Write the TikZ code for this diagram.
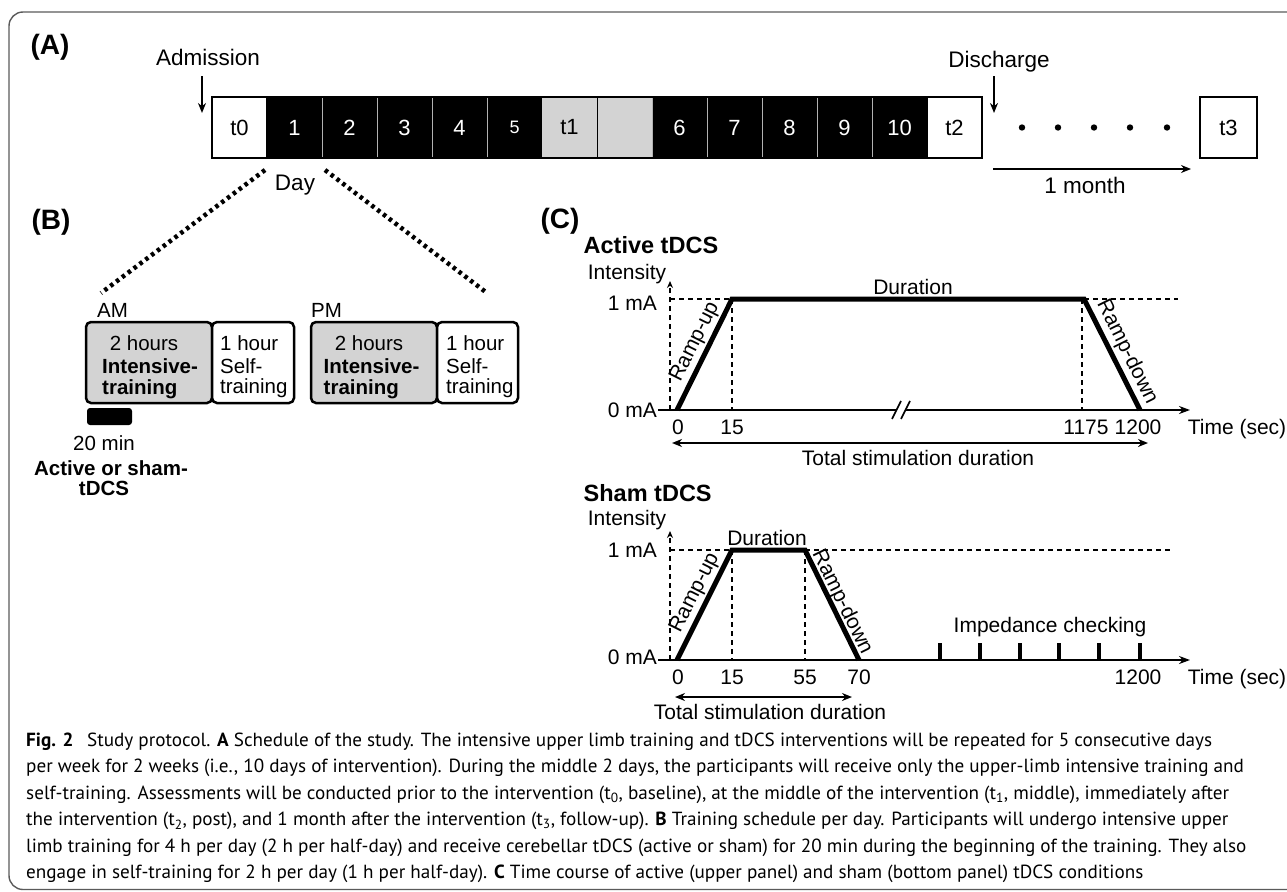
\documentclass[tikz,border=0pt]{standalone}
\usepackage{fontspec}
\setmainfont{Liberation Sans}
\newfontfamily\capfont{PT Sans}
\usepackage{graphicx}
\usetikzlibrary{arrows.meta}
\definecolor{lightg}{RGB}{211,211,211}
\definecolor{framec}{RGB}{90,90,90}
\newcommand\fs[1]{\fontsize{#1}{#1}\selectfont}
\newlength\capw
\newcommand\cpA{\textbf{Fig. 2}\hspace{0.45em} Study protocol. \textbf{A} Schedule of the study. The intensive upper limb training and tDCS interventions will be repeated for 5 consecutive days}
\newcommand\cpB{per week for 2 weeks (i.e., 10 days of intervention). During the middle 2 days, the participants will receive only the upper-limb intensive training and}
\newcommand\cpC{self-training. Assessments will be conducted prior to the intervention (t\textsubscript{0}, baseline), at the middle of the intervention (t\textsubscript{1}, middle), immediately after}
\newcommand\cpD{the intervention (t\textsubscript{2}, post), and 1 month after the intervention (t\textsubscript{3}, follow-up). \textbf{B} Training schedule per day. Participants will undergo intensive upper}
\newcommand\cpE{limb training for 4 h per day (2 h per half-day) and receive cerebellar tDCS (active or sham) for 20 min during the beginning of the training. They also}
\newcommand\cpF{engage in self-training for 2 h per day (1 h per half-day). \textbf{C} Time course of active (upper panel) and sham (bottom panel) tDCS conditions}
\begin{document}
\settowidth\capw{\capfont\fs{19}\cpA}%
\pgfmathsetmacro\capsc{1186/\capw}%
\begin{tikzpicture}[x=1pt,y=-1pt,
  lab/.style={inner sep=0pt, font=\fs{22.5}},
  lbs/.style={inner sep=0pt, font=\fs{20.5}},
  lbb/.style={inner sep=0pt, font=\fs{20.5}\bfseries},
  lc/.style={inner sep=0pt, font=\fs{21}},
  hdr/.style={inner sep=0pt, font=\fs{23.5}\bfseries, anchor=base west},
  plab/.style={inner sep=0pt, font=\fs{28}\bfseries},
  cell/.style={minimum width=55pt, minimum height=61pt, inner sep=0pt, font=\fs{22}, line width=0.8pt},
  cellW/.style={cell, fill=white, draw=black, text=black},
  cellK/.style={cell, fill=black, draw=gray!60, text=white},
  cellG/.style={cell, fill=lightg, draw=none, text=black},
  arr/.style={line width=2pt, -{Stealth[length=10pt,width=8pt]}},
  dotl/.style={line width=4.5pt, dash pattern=on 3.5pt off 3.8pt},
  tbox/.style={draw, line width=2.5pt, rounded corners=5pt, minimum height=81pt, inner sep=0pt},
  dsh/.style={line width=1.6pt, dash pattern=on 5pt off 4pt},
  axisl/.style={line width=2pt, -{Stealth[length=11pt,width=8pt]}},
  yax/.style={line width=1.6pt, dash pattern=on 5pt off 4pt, -{Stealth[length=7pt,width=6pt]}},
  trap/.style={line width=5pt},
  dbl/.style={line width=2pt, {Stealth[length=10pt,width=8pt]}-{Stealth[length=10pt,width=8pt]}},
  capt/.style={anchor=base west, inner sep=0pt, font=\capfont\fs{19}}
]
\path[use as bounding box] (0,0) rectangle (1287,891);
\clip (0,0) rectangle (1287,891);
% frame
\draw[framec, line width=1.4pt, rounded corners=14pt] (9,889.5) rectangle (1340,12);

% ---------- (A) timeline ----------
\node[plab, anchor=base] (labA) at (50,55) {(A)};
\foreach \i/\lab/\kind in {0/t0/W,1/1/K,2/2/K,3/3/K,4/4/K,5/{\fs{18}5}/K,6/t1/G,7/{}/G,8/6/K,9/7/K,10/8/K,11/9/K,12/10/K,13/t2/W}
  {\node[cell\kind] (c\i) at ({239.5+55*\i},127.5) {\lab};}
\draw[line width=0.8pt] (c6.north east) -- (c6.south east);
\draw[line width=2pt] (c0.north west) rectangle (c13.south east);
\draw[line width=2pt] (c0.north east) -- (c0.south east);
\draw[line width=2pt] (c13.north west) -- (c13.south west);
\node[cellW, line width=2pt, minimum width=57pt] (t3) at (1228.5,127.5) {t3};
\foreach \x in {1022,1058,1094,1130,1167} \fill (\x,127.5) circle (3.2pt);

\node[lab, anchor=base] (adm) at (208,66) {Admission};
\coordinate (admS) at (202,76); \coordinate (admE) at (202,113);
\draw[arr] (admS) -- (admE);
\node[lab, anchor=base] (dis) at (999,67) {Discharge};
\coordinate (disS) at (994,76); \coordinate (disE) at (994,113);
\draw[arr] (disS) -- (disE);
\coordinate (monS) at (993,169); \coordinate (monE) at (1191,169);
\draw[arr] (monS) -- (monE);
\node[lab, anchor=base] (mon) at (1085,193) {1 month};

\node[lab, anchor=base] (day) at (295,190) {Day};
\coordinate (dL1) at (265,170); \coordinate (dL2) at (101,293);
\coordinate (dR1) at (325,170); \coordinate (dR2) at (487,293);
\draw[dotl] (dL1) -- (dL2);
\draw[dotl] (dR1) -- (dR2);

% ---------- (B) ----------
\node[plab, anchor=base] (labB) at (51,229) {(B)};
\node[lbs, anchor=base west] (am) at (97,317) {AM};
\node[lbs, anchor=base west] (pm) at (311,317) {PM};
\node[tbox, fill=lightg, minimum width=126pt] (am1) at (149,362.5) {};
\node[tbox, fill=white, minimum width=82pt] (am2) at (253,362.5) {};
\node[tbox, fill=lightg, minimum width=126pt] (pm1) at (374,362.5) {};
\node[tbox, fill=white, minimum width=81pt] (pm2) at (477.5,362.5) {};
\node[lbs, anchor=base] (am1a) at (144,350) {2 hours};
\node[lbb, anchor=base west] (am1b) at (102,373) {Intensive-};
\node[lbb, anchor=base west] (am1c) at (102,394) {training};
\node[lbs, anchor=base west] (am2a) at (220,350) {1 hour};
\node[lbs, anchor=base west] (am2b) at (220,373) {Self-};
\node[lbs, anchor=base west] (am2c) at (220,393) {training};
\node[lbs, anchor=base] (pm1a) at (369,350) {2 hours};
\node[lbb, anchor=base west] (pm1b) at (323.5,373) {Intensive-};
\node[lbb, anchor=base west] (pm1c) at (323.5,394) {training};
\node[lbs, anchor=base west] (pm2a) at (446,350) {1 hour};
\node[lbs, anchor=base west] (pm2b) at (446,373) {Self-};
\node[lbs, anchor=base west] (pm2c) at (446,393) {training};
\node[fill=black, rounded corners=3pt, minimum width=45pt, minimum height=17pt, inner sep=0pt] (bar) at (109.5,416.5) {};
\node[lbs, anchor=base] (min) at (104,450.5) {20 min};
\node[lbb, anchor=base] (aos1) at (111,475.5) {Active or sham-};
\node[lbb, anchor=base] (aos2) at (104,495.5) {tDCS};

% ---------- (C) active ----------
\node[plab, anchor=base] (labC) at (560,228) {(C)};
\node[hdr] (hA) at (583.5,253.5) {Active tDCS};
\node[lc, anchor=base] (intA) at (627,279.5) {Intensity};
\node[lc, anchor=base] (durA) at (913,294.5) {Duration};
\node[lc, anchor=base east] (oneA) at (657,310) {1 mA};
\node[lc, anchor=base east] (zeroA) at (657,417.5) {0 mA};
\coordinate (yA0) at (670,410); \coordinate (yA1) at (670,281);
\coordinate (hA0) at (670,299); \coordinate (hA1) at (1178,299);
\coordinate (a0) at (677,410); \coordinate (a1) at (732,299);
\coordinate (a2) at (1084,299); \coordinate (a3) at (1140,410);
\coordinate (v1b) at (732,410); \coordinate (v2t) at (1082,299); \coordinate (v2b) at (1082,410);
\coordinate (xA0) at (658,410); \coordinate (xA1) at (1190,410);
\draw[dsh] (hA0) -- (hA1);
\draw[dsh] (a1) -- (v1b);
\draw[dsh] (v2t) -- (v2b);
\draw[yax] (yA0) -- (yA1);
\draw[axisl] (xA0) -- (xA1);
\fill[white] (893,419) -- (901,401) -- (910,401) -- (902,419) -- cycle;
\draw[line width=1.6pt] (892,419) -- (901,401);
\draw[line width=1.6pt] (901,419) -- (910,401);
\draw[trap] (a0) -- (a1) -- (a2) -- (a3);
\node[lc, rotate=63.6] (rupA) at (695,342) {Ramp-up};
\node[lc, rotate=-63.6] (rdnA) at (1127,352) {Ramp-down};
\node[lc, anchor=base] (tA0) at (678,434.5) {0};
\node[lc, anchor=base] (tA1) at (732,434.5) {15};
\node[lc, anchor=base] (tA2) at (1086,434.5) {1175};
\node[lc, anchor=base] (tA3) at (1138,434.5) {1200};
\node[lc, anchor=base] (timeA) at (1237,434.5) {Time (sec)};
\coordinate (dA0) at (672,443); \coordinate (dA1) at (1148,443);
\draw[dbl] (dA0) -- (dA1);
\node[lc, anchor=base] (totA) at (918,465.5) {Total stimulation duration};

% ---------- (C) sham ----------
\node[hdr] (hS) at (583.5,501.5) {Sham tDCS};
\node[lc, anchor=base] (intS) at (627,525.5) {Intensity};
\node[lc, anchor=base] (durS) at (767,545.5) {Duration};
\node[lc, anchor=base east] (oneS) at (657,557.5) {1 mA};
\node[lc, anchor=base east] (zeroS) at (657,664) {0 mA};
\coordinate (yS0) at (670,660); \coordinate (yS1) at (670,531);
\coordinate (hS0) at (670,550); \coordinate (hS1) at (1173,550);
\coordinate (s0) at (677,660); \coordinate (s1) at (732,550);
\coordinate (s2) at (805,550); \coordinate (s3) at (859,660);
\coordinate (w1b) at (732,660); \coordinate (w2b) at (805,660);
\coordinate (xS0) at (658,660); \coordinate (xS1) at (1190,660);
\draw[dsh] (hS0) -- (hS1);
\draw[dsh] (s1) -- (w1b);
\draw[dsh] (s2) -- (w2b);
\draw[yax] (yS0) -- (yS1);
\draw[axisl] (xS0) -- (xS1);
\draw[trap] (s0) -- (s1) -- (s2) -- (s3);
\foreach \x in {940,980,1020,1059,1099,1140} \draw[line width=4pt] (\x,643) -- (\x,660);
\node[lc, rotate=63.4] (rupS) at (695,593) {Ramp-up};
\node[lc, rotate=-63.8] (rdnS) at (842,602) {Ramp-down};
\node[lc, anchor=base] (imp) at (1050,632.5) {Impedance checking};
\node[lc, anchor=base] (tS0) at (678,684.5) {0};
\node[lc, anchor=base] (tS1) at (732,684.5) {15};
\node[lc, anchor=base] (tS2) at (805,684.5) {55};
\node[lc, anchor=base] (tS3) at (859,684.5) {70};
\node[lc, anchor=base] (tS4) at (1138,684.5) {1200};
\node[lc, anchor=base] (timeS) at (1237,684.5) {Time (sec)};
\coordinate (dS0) at (675,697); \coordinate (dS1) at (852,697);
\draw[dbl] (dS0) -- (dS1);
\node[lc, anchor=base] (totS) at (770,719.5) {Total stimulation duration};

% ---------- caption ----------
\node[capt] (cap1) at (26,746) {\scalebox{\capsc}[1]{\cpA}};
\node[capt] (cap2) at (26,772.5) {\scalebox{\capsc}[1]{\cpB}};
\node[capt] (cap3) at (26,799) {\scalebox{\capsc}[1]{\cpC}};
\node[capt] (cap4) at (26,825.5) {\scalebox{\capsc}[1]{\cpD}};
\node[capt] (cap5) at (26,852) {\scalebox{\capsc}[1]{\cpE}};
\node[capt] (cap6) at (26,878.5) {\scalebox{\capsc}[1]{\cpF}};
\end{tikzpicture}
\end{document}
